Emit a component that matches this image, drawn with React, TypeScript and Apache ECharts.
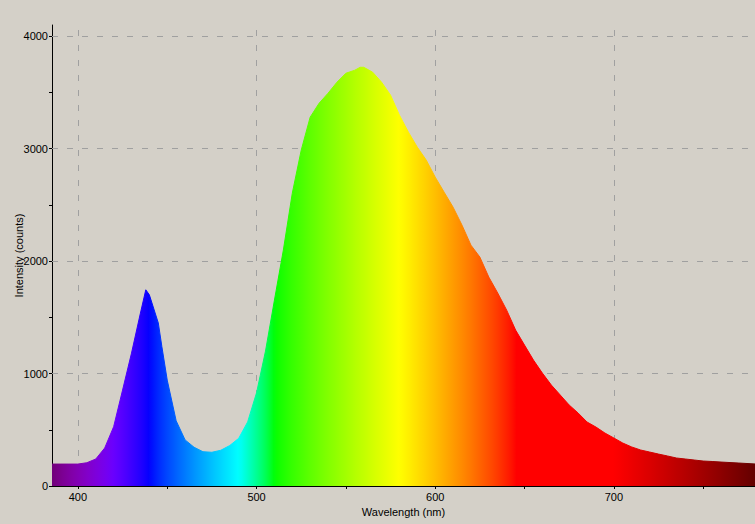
import React, { useEffect, useRef } from "react";
import * as echarts from "echarts";

// Wavelength (nm) and measured intensity (counts)
const wavelengths = [
  385.5, 390, 395, 400, 405, 410, 415, 420, 425, 430, 435, 438, 440, 445, 447, 450, 455, 460, 465, 470, 475,
  480, 485, 490, 495, 500, 505, 510, 515, 520, 525, 530, 535, 540, 545, 550, 555, 558, 560, 565, 570,
  575, 580, 585, 590, 595, 600, 605, 610, 615, 620, 625, 630, 635, 640, 645, 650, 655, 660, 665, 670,
  675, 680, 685, 690, 695, 700, 705, 710, 715, 720, 725, 730, 735, 740, 745, 750, 755, 760, 770, 779,
];
const intensity = [
  195, 195, 195, 195, 207, 240, 338, 527, 853, 1182, 1538, 1745, 1700, 1450, 1240, 942, 580, 410, 345, 305, 300,
  318, 360, 424, 570, 830, 1200, 1653, 2098, 2604, 2987, 3280, 3404, 3493, 3591, 3671, 3698, 3724, 3724, 3680, 3591,
  3476, 3298, 3147, 3013, 2898, 2747, 2613, 2480, 2320, 2142, 2036, 1858, 1716, 1564, 1387, 1253, 1120, 1004, 898, 809,
  720, 649, 569, 524, 471, 427, 382, 347, 320, 302, 284, 267, 249, 240, 231, 222, 218, 213, 204, 196,
];
const xTickValues = [400, 450, 500, 550, 600, 650, 700, 750];
const xLabelValues = [400, 500, 600, 700];
const yTickValues = [0, 500, 1000, 1500, 2000, 2500, 3000, 3500, 4000];
const yLabelValues = [0, 1000, 2000, 3000, 4000];
const xGridValues = [400, 500, 600, 700];
const yGridValues = [1000, 2000, 3000, 4000];

const X_MIN = 385.5;
const X_MAX = 779;

function wlColor(w: number): string {
  let r = 0, g = 0, b = 0;
  if (w < 440) { r = -(w - 440) / 60; b = 1; }
  else if (w < 490) { g = (w - 440) / 50; b = 1; }
  else if (w < 510) { g = 1; b = -(w - 510) / 20; }
  else if (w < 580) { r = (w - 510) / 70; g = 1; }
  else if (w < 645) { r = 1; g = -(w - 645) / 65; }
  else { r = 1; }
  let f = 1;
  if (w < 420) f = 0.3 + (0.7 * (w - 380)) / 40;
  else if (w > 700) f = 0.3 + (0.7 * (780 - w)) / 80;
  const c = (v: number) => Math.round(255 * Math.pow(Math.max(0, v * f), 0.8));
  return `rgb(${c(r)},${c(g)},${c(b)})`;
}

export default function App() {
  const ref = useRef<HTMLDivElement>(null);
  useEffect(() => {
    if (!ref.current) return;
    const chart = echarts.init(ref.current, undefined, { renderer: "svg" });
    const stops: { offset: number; color: string }[] = [];
    for (let w = X_MIN; w <= X_MAX; w += 2) {
      stops.push({ offset: (w - X_MIN) / (X_MAX - X_MIN), color: wlColor(w) });
    }
    stops.push({ offset: 1, color: wlColor(X_MAX) });
    const grad = new echarts.graphic.LinearGradient(0, 0, 1, 0, stops);
    const font = { fontFamily: "Liberation Sans", fontSize: 11, color: "#000" };
    chart.setOption({
      animation: false,
      backgroundColor: "#d4d0c8",
      grid: { left: 52, right: 0, top: 25, bottom: 38, containLabel: false, outerBoundsMode: "none" },
      xAxis: {
        type: "value",
        min: X_MIN,
        max: X_MAX,
        name: "Wavelength (nm)",
        nameLocation: "middle",
        nameGap: 20,
        nameMoveOverlap: false,
        nameTextStyle: font,
        axisLine: { lineStyle: { color: "#000", width: 1 } },
        axisTick: { show: true, length: 3, customValues: xTickValues, lineStyle: { color: "#000" } },
        axisLabel: { ...font, margin: 5, customValues: xLabelValues, formatter: (v: number) => String(v) },
        splitLine: { show: false },
      },
      yAxis: {
        type: "value",
        min: 0,
        max: 4100,
        name: "Intensity (counts)",
        nameLocation: "middle",
        nameGap: 28,
        nameMoveOverlap: false,
        nameTextStyle: font,
        axisLine: { show: true, lineStyle: { color: "#000", width: 1 } },
        axisTick: { show: true, length: 3, customValues: yTickValues, lineStyle: { color: "#000" } },
        axisLabel: { ...font, margin: 4, customValues: yLabelValues, formatter: (v: number) => String(v) },
        splitLine: { show: false },
      },
      series: [
        {
          type: "line",
          z: 1,
          data: [],
          silent: true,
          markLine: {
            z: 1,
            silent: true,
            symbol: "none",
            label: { show: false },
            lineStyle: { color: "#a0a0a0", type: [6, 9], width: 1 },
            data: [
              ...xGridValues.map((v) => ({ xAxis: v })),
              ...yGridValues.map((v) => ({ yAxis: v })),
            ],
          },
        },
        {
          type: "line",
          z: 3,
          showSymbol: false,
          silent: true,
          data: wavelengths.map((w, i) => [w, intensity[i]]),
          lineStyle: { width: 1, color: grad },
          areaStyle: { color: grad, opacity: 1 },
        },
      ],
    });
    return () => chart.dispose();
  }, []);
  return (
    <div
      ref={ref}
      style={{ position: "fixed", left: 0, top: 0, width: 755, height: 524, background: "#d4d0c8" }}
    />
  );
}
